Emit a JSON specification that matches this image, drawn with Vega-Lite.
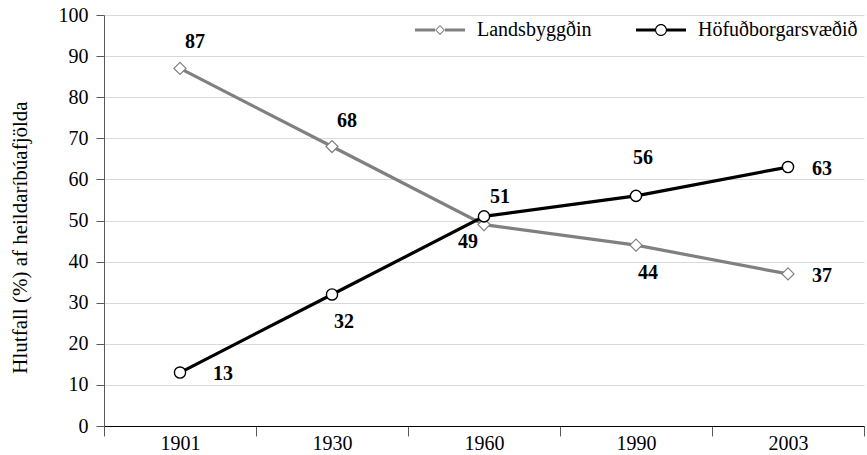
{
  "$schema": "https://vega.github.io/schema/vega-lite/v6.json",
  "width": 760,
  "height": 411,
  "autosize": {"type": "none"},
  "padding": {"left": 104, "top": 15, "right": 3, "bottom": 29},
  "background": "white",
  "config": {
    "font": "Liberation Serif",
    "view": {"stroke": null},
    "text": {"font": "Liberation Serif"}
  },
  "data": {
    "values": [
      {"year": "1901", "series": "Landsbyggðin", "value": 87},
      {"year": "1930", "series": "Landsbyggðin", "value": 68},
      {"year": "1960", "series": "Landsbyggðin", "value": 49},
      {"year": "1990", "series": "Landsbyggðin", "value": 44},
      {"year": "2003", "series": "Landsbyggðin", "value": 37},
      {"year": "1901", "series": "Höfuðborgarsvæðið", "value": 13},
      {"year": "1930", "series": "Höfuðborgarsvæðið", "value": 32},
      {"year": "1960", "series": "Höfuðborgarsvæðið", "value": 51},
      {"year": "1990", "series": "Höfuðborgarsvæðið", "value": 56},
      {"year": "2003", "series": "Höfuðborgarsvæðið", "value": 63}
    ]
  },
  "encoding": {
    "x": {
      "field": "year",
      "type": "nominal",
      "sort": null,
      "scale": {"type": "band", "paddingInner": 0, "paddingOuter": 0},
      "axis": {
        "title": null,
        "labelAngle": 0,
        "labelFont": "Liberation Serif",
        "labelFontSize": 20,
        "labelColor": "#000000",
        "labelPadding": -3,
        "tickBand": "extent",
        "tickSize": 10,
        "tickColor": "#595959",
        "domainColor": "#000000",
        "domainWidth": 1.2,
        "grid": false
      }
    },
    "y": {
      "field": "value",
      "type": "quantitative",
      "scale": {"domain": [0, 100], "nice": false},
      "axis": {
        "values": [0, 10, 20, 30, 40, 50, 60, 70, 80, 90, 100],
        "title": "Hlutfall (%) af heildaríbúafjölda",
        "titleFont": "Liberation Serif",
        "titleFontSize": 21,
        "titleFontWeight": "normal",
        "titleColor": "#000000",
        "titleAngle": -90,
        "titleX": -84,
        "titleY": 222,
        "titleAlign": "center",
        "titleBaseline": "middle",
        "labelFont": "Liberation Serif",
        "labelFontSize": 20,
        "labelColor": "#000000",
        "labelPadding": 8,
        "tickSize": 8,
        "tickColor": "#595959",
        "domainColor": "#595959",
        "grid": true,
        "gridColor": "#d9d9d9",
        "gridWidth": 1.2
      }
    }
  },
  "layer": [
    {
      "mark": {"type": "line", "strokeWidth": 3.2},
      "encoding": {
        "color": {
          "field": "series",
          "type": "nominal",
          "scale": {"domain": ["Landsbyggðin", "Höfuðborgarsvæðið"], "range": ["#808080", "#000000"]},
          "legend": {
            "orient": "none",
            "legendX": 326,
            "legendY": 5,
            "direction": "horizontal",
            "title": null,
            "padding": 0,
            "symbolSize": 100,
            "labelOffset": 27,
            "labelFont": "Liberation Serif",
            "labelFontSize": 20,
            "labelColor": "#000000",
            "columnPadding": 44,
            "encode": {
              "symbols": {
                "update": {
                  "shape": {"signal": "datum.value === 'Landsbyggðin' ? 'M-5,-0.3L-1,-0.3L-1,0.3L-5,0.3Z M1,-0.3L5,-0.3L5,0.3L1,0.3Z M0,-1L1,0L0,1L-1,0Z M0,-0.72L-0.72,0L0,0.72L0.72,0Z' : 'M-5,-0.3L-1.1,-0.3L-1.1,0.3L-5,0.3Z M1.1,-0.3L5,-0.3L5,0.3L1.1,0.3Z M-1.2,0A1.2,1.2 0 1,1 1.2,0A1.2,1.2 0 1,1 -1.2,0Z M-0.97,0A0.97,0.97 0 1,0 0.97,0A0.97,0.97 0 1,0 -0.97,0Z'"},
                  "fill": {"signal": "datum.value === 'Landsbyggðin' ? '#808080' : '#000000'"},
                  "stroke": {"value": "transparent"},
                  "strokeWidth": {"value": 0},
                  "opacity": {"value": 1}
                }
              }
            }
          }
        }
      }
    },
    {
      "transform": [{"filter": "datum.series === 'Landsbyggðin'"}],
      "mark": {"type": "point", "shape": "diamond", "size": 145, "filled": true, "fill": "white", "stroke": "#808080", "strokeWidth": 1.2, "opacity": 1}
    },
    {
      "transform": [{"filter": "datum.series === 'Höfuðborgarsvæðið'"}],
      "mark": {"type": "point", "shape": "circle", "size": 125, "filled": true, "fill": "white", "stroke": "#000000", "strokeWidth": 1.4, "opacity": 1}
    },
    {
      "transform": [{"filter": "datum.series === 'Landsbyggðin' && (datum.year === '1901' || datum.year === '1930')"}],
      "mark": {"type": "text", "fontSize": 20, "fontWeight": "bold", "color": "#000000", "dx": 15, "dy": -26, "align": "center", "baseline": "middle"},
      "encoding": {"text": {"field": "value", "type": "quantitative"}}
    },
    {
      "transform": [{"filter": "datum.series === 'Höfuðborgarsvæðið' && datum.year === '1960'"}],
      "mark": {"type": "text", "fontSize": 20, "fontWeight": "bold", "color": "#000000", "dx": 16, "dy": -19, "align": "center", "baseline": "middle"},
      "encoding": {"text": {"field": "value", "type": "quantitative"}}
    },
    {
      "transform": [{"filter": "datum.series === 'Höfuðborgarsvæðið' && datum.year === '1990'"}],
      "mark": {"type": "text", "fontSize": 20, "fontWeight": "bold", "color": "#000000", "dx": 7, "dy": -38, "align": "center", "baseline": "middle"},
      "encoding": {"text": {"field": "value", "type": "quantitative"}}
    },
    {
      "transform": [{"filter": "datum.series === 'Landsbyggðin' && datum.year === '1960'"}],
      "mark": {"type": "text", "fontSize": 20, "fontWeight": "bold", "color": "#000000", "dx": -16, "dy": 17, "align": "center", "baseline": "middle"},
      "encoding": {"text": {"field": "value", "type": "quantitative"}}
    },
    {
      "transform": [{"filter": "(datum.series === 'Landsbyggðin' && datum.year === '1990') || (datum.series === 'Höfuðborgarsvæðið' && datum.year === '1930')"}],
      "mark": {"type": "text", "fontSize": 20, "fontWeight": "bold", "color": "#000000", "dx": 12, "dy": 28, "align": "center", "baseline": "middle"},
      "encoding": {"text": {"field": "value", "type": "quantitative"}}
    },
    {
      "transform": [{"filter": "datum.year === '2003'"}],
      "mark": {"type": "text", "fontSize": 20, "fontWeight": "bold", "color": "#000000", "dx": 24, "dy": 2, "align": "left", "baseline": "middle"},
      "encoding": {"text": {"field": "value", "type": "quantitative"}}
    },
    {
      "transform": [{"filter": "datum.series === 'Höfuðborgarsvæðið' && datum.year === '1901'"}],
      "mark": {"type": "text", "fontSize": 20, "fontWeight": "bold", "color": "#000000", "dx": 33, "dy": 1, "align": "left", "baseline": "middle"},
      "encoding": {"text": {"field": "value", "type": "quantitative"}}
    }
  ]
}
